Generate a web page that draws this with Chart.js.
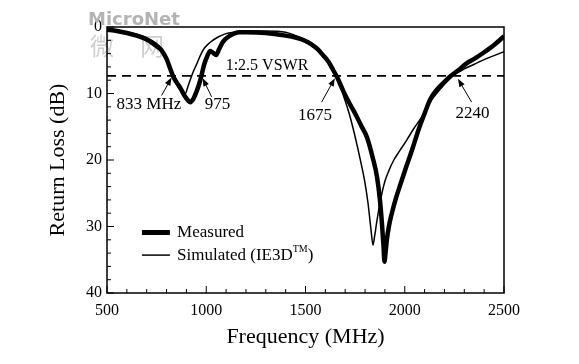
<!DOCTYPE html>
<html>
<head>
<meta charset="utf-8">
<script src="https://cdn.jsdelivr.net/npm/chart.js@4.4.0/dist/chart.umd.min.js"></script>
<style>
  html, body { margin: 0; padding: 0; background: #fff; }
</style>
</head>
<body>
<canvas id="myChart" width="579" height="364"></canvas>
<script>
// values: frequency in MHz, return loss in dB
const measuredFreq = [500, 550, 600, 650, 700, 750, 775, 800, 820, 833, 850, 870, 890, 910, 920, 935, 950, 965, 975, 990,
  1005, 1020, 1035, 1050, 1065, 1085, 1110, 1140, 1170, 1200, 1300, 1400, 1450, 1500, 1530, 1560, 1590, 1615, 1640, 1660,
  1690, 1720, 1750, 1780, 1810, 1840, 1860, 1875, 1885, 1893, 1898, 1903, 1910, 1920, 1935, 1955, 1980, 2010, 2040, 2070,
  2100, 2130, 2160, 2195, 2230, 2270, 2310, 2350, 2400, 2450, 2500];
const measuredLoss = [0.4, 0.6, 0.9, 1.3, 1.9, 2.9, 3.5, 4.8, 6.4, 7.4, 8.3, 9.2, 10.3, 11.1, 11.3, 10.8, 9.8, 8.5, 7.4, 5.6,
  4.4, 3.6, 3.9, 4.2, 3.3, 2.2, 1.5, 1.0, 0.8, 0.8, 0.9, 1.3, 1.6, 2.1, 2.6, 3.3, 4.3, 5.2, 6.5, 7.6,
  9.6, 11.4, 13.0, 14.8, 16.6, 19.8, 22.5, 26.0, 29.5, 33.0, 35.3, 34.0, 32.0, 30.0, 28.0, 25.8, 23.5, 20.8, 18.2, 15.4,
  13.0, 10.8, 9.5, 8.4, 7.4, 6.5, 5.5, 4.8, 3.8, 2.7, 1.4];

const simFreq = [500, 550, 600, 650, 700, 750, 775, 800, 820, 833, 850, 870, 885, 895, 905, 920, 935, 950, 970, 990,
  1020, 1060, 1100, 1140, 1200, 1300, 1400, 1450, 1500, 1550, 1600, 1640, 1660, 1690, 1720, 1750, 1780, 1800, 1815, 1830,
  1840, 1848, 1858, 1870, 1885, 1900, 1920, 1945, 1975, 2010, 2045, 2080, 2130, 2180, 2240, 2300, 2350, 2400, 2450, 2500];
const simLoss = [0.3, 0.5, 0.8, 1.1, 1.6, 2.5, 3.3, 4.6, 6.2, 7.4, 8.6, 9.6, 10.0, 10.0, 9.2, 7.9, 6.7, 5.7, 4.3, 3.2,
  2.3, 1.5, 1.0, 0.8, 0.6, 0.6, 0.8, 1.3, 1.9, 3.0, 4.8, 6.6, 7.6, 10.2, 13.0, 16.5, 20.5, 23.5, 26.5, 30.5,
  32.8, 31.5, 29.5, 27.3, 25.0, 23.2, 21.6, 20.0, 18.6, 17.0, 15.3, 13.8, 11.2, 9.3, 7.4, 6.3, 5.6, 4.9, 4.3, 3.7];

const vswrFreq = [500, 2500];
const vswrLoss = [7.36, 7.36];

const xTicks = [500, 1000, 1500, 2000, 2500];
const yTicks = [0, 10, 20, 30, 40];

const serif = "'Liberation Serif', 'Times New Roman', serif";

function pts(xs, ys) {
  return xs.map((x, i) => ({ x: x, y: ys[i] }));
}

// labelled band edges: text spot and arrow tail -> tip, all in data units
const notes = [
  { text: '833 MHz', tx: 711, ty: 11.6, from: [775, 10.3], to: [825, 7.6] },
  { text: '975', tx: 1057, ty: 11.6, from: [1027, 10.5], to: [982, 7.7] },
  { text: '1675', tx: 1548, ty: 13.3, from: [1581, 11.3], to: [1648, 7.7] },
  { text: '2240', tx: 2341, ty: 13.0, from: [2337, 11.3], to: [2268, 7.8] }
];

function arrow(ctx, x1, y1, x2, y2) {
  let a = Math.atan2(y2 - y1, x2 - x1);
  ctx.beginPath();
  ctx.moveTo(x1, y1);
  ctx.lineTo(x2 - 5 * Math.cos(a), y2 - 5 * Math.sin(a));
  ctx.stroke();
  ctx.beginPath();
  ctx.moveTo(x2, y2);
  ctx.lineTo(x2 - 8 * Math.cos(a) + 3 * Math.sin(a), y2 - 8 * Math.sin(a) - 3 * Math.cos(a));
  ctx.lineTo(x2 - 8 * Math.cos(a) - 3 * Math.sin(a), y2 - 8 * Math.sin(a) + 3 * Math.cos(a));
  ctx.closePath();
  ctx.fill();
}

const frame = {
  id: 'frame',
  beforeDatasetsDraw(chart) {
    const ctx = chart.ctx, a = chart.chartArea;
    const xs = chart.scales.x, ys = chart.scales.y;
    ctx.save();
    // watermark
    ctx.fillStyle = '#b4b4b4';
    ctx.font = "bold 18px 'DejaVu Sans', sans-serif";
    ctx.textBaseline = 'alphabetic';
    ctx.fillText('MicroNet', 88, 25);
    ctx.fillStyle = '#cfcfcf';
    ctx.font = "24px 'Noto Sans CJK SC', sans-serif";
    ctx.fillText('微', 90, 55);
    ctx.fillText('网', 140, 55);

    ctx.strokeStyle = '#000';
    ctx.lineWidth = 1.5;
    ctx.strokeRect(a.left, a.top, a.right - a.left, a.bottom - a.top);
    ctx.lineWidth = 1;
    ctx.beginPath();
    for (let v = 500; v <= 2500; v += 100) {
      let p = xs.getPixelForValue(v);
      let len = v % 500 === 0 ? 7 : 4;
      ctx.moveTo(p, a.bottom);
      ctx.lineTo(p, a.bottom - len);
    }
    for (let v = 0; v <= 40; v += 2) {
      let p = ys.getPixelForValue(v);
      let len = v % 10 === 0 ? 7 : 4;
      ctx.moveTo(a.left, p);
      ctx.lineTo(a.left + len, p);
    }
    ctx.stroke();
    ctx.restore();
  },
  afterDatasetsDraw(chart) {
    const ctx = chart.ctx;
    const xs = chart.scales.x, ys = chart.scales.y;
    const X = v => xs.getPixelForValue(v), Y = v => ys.getPixelForValue(v);
    ctx.save();
    ctx.fillStyle = '#000';
    ctx.strokeStyle = '#000';
    ctx.lineWidth = 1;
    ctx.textBaseline = 'middle';
    ctx.textAlign = 'center';
    ctx.font = '16px ' + serif;
    ctx.fillText('1:2.5 VSWR', X(1306), Y(5.9));
    ctx.font = '17px ' + serif;
    notes.forEach(n => {
      ctx.fillText(n.text, X(n.tx), Y(n.ty));
      arrow(ctx, X(n.from[0]), Y(n.from[1]), X(n.to[0]), Y(n.to[1]));
    });

    // legend
    ctx.textAlign = 'left';
    let lx0 = X(676), lx1 = X(817), tx = X(853);
    ctx.lineWidth = 5;
    ctx.beginPath();
    ctx.moveTo(lx0, Y(30.9));
    ctx.lineTo(lx1, Y(30.9));
    ctx.stroke();
    ctx.lineWidth = 1.5;
    ctx.beginPath();
    ctx.moveTo(lx0, Y(34.3));
    ctx.lineTo(lx1, Y(34.3));
    ctx.stroke();
    ctx.fillText('Measured', tx, Y(30.9));
    let s = 'Simulated (IE3D';
    ctx.fillText(s, tx, Y(34.3));
    let w = ctx.measureText(s).width;
    ctx.font = '10px ' + serif;
    ctx.fillText('TM', tx + w, Y(34.3) - 6);
    let w2 = ctx.measureText('TM').width;
    ctx.font = '17px ' + serif;
    ctx.fillText(')', tx + w + w2, Y(34.3));
    ctx.restore();
  }
};

let ctx = document.getElementById('myChart').getContext('2d');

let myChart = new Chart(ctx, {
  type: 'line',
  data: {
    datasets: [{
      label: 'Measured',
      data: pts(measuredFreq, measuredLoss),
      borderColor: '#000',
      borderWidth: 4.5,
      pointRadius: 0,
      cubicInterpolationMode: 'monotone',
      fill: false
    }, {
      label: 'Simulated (IE3D)',
      data: pts(simFreq, simLoss),
      borderColor: '#000',
      borderWidth: 1.5,
      pointRadius: 0,
      cubicInterpolationMode: 'monotone',
      fill: false
    }, {
      label: '1:2.5 VSWR',
      data: pts(vswrFreq, vswrLoss),
      borderColor: '#000',
      borderWidth: 1.8,
      borderDash: [9, 6],
      pointRadius: 0,
      fill: false
    }]
  },
  options: {
    responsive: false,
    animation: false,
    layout: { padding: { top: 27, right: 75, left: 0, bottom: 0 } },
    plugins: { legend: { display: false }, tooltip: { enabled: false } },
    scales: {
      x: {
        type: 'linear',
        min: 500,
        max: 2500,
        afterBuildTicks: s => { s.ticks = xTicks.map(v => ({ value: v })); },
        afterFit: s => { s.height = 71; },
        grid: { display: false, drawTicks: false },
        border: { display: false },
        ticks: { color: '#000', padding: 8, maxRotation: 0, font: { family: serif, size: 16 }, callback: v => String(v) },
        title: { display: true, text: 'Frequency (MHz)', color: '#000', font: { family: serif, size: 22 }, padding: { top: 0, bottom: 14 } }
      },
      y: {
        reverse: true,
        min: 0,
        max: 40,
        afterBuildTicks: s => { s.ticks = yTicks.map(v => ({ value: v })); },
        afterFit: s => { s.width = 107; },
        grid: { display: false, drawTicks: false },
        border: { display: false },
        ticks: { color: '#000', padding: 5, font: { family: serif, size: 16 }, callback: v => String(v) },
        title: { display: true, text: 'Return Loss (dB)', color: '#000', font: { family: serif, size: 22 }, padding: { top: 45, bottom: 0 } }
      }
    }
  },
  plugins: [frame]
});
</script>
</body>
</html>
